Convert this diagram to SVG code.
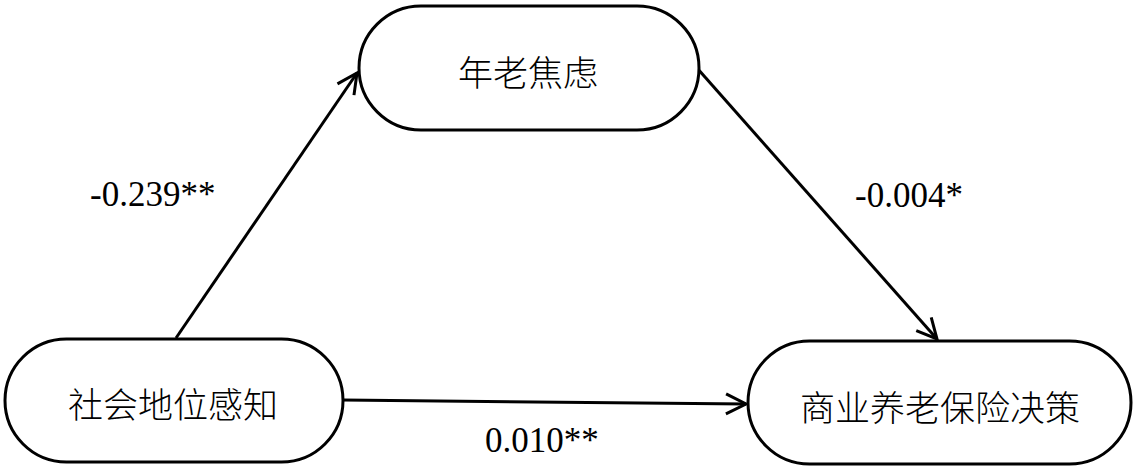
<svg xmlns="http://www.w3.org/2000/svg" width="1136" height="472" viewBox="0 0 1136 472">
<style>
.node rect{fill:#fff;stroke:#000;stroke-width:3}
.node text{font-family:"Noto Sans CJK SC",sans-serif;font-size:35px;font-weight:300;fill:#000;text-anchor:middle;dominant-baseline:central}
.edge{fill:none;stroke:#000;stroke-width:3}
.lbl{font-family:"Liberation Serif",serif;font-size:35px;fill:#000}
</style>
<defs>
<marker id="arr" markerUnits="userSpaceOnUse" markerWidth="30" markerHeight="30" refX="22" refY="12" orient="auto" overflow="visible">
<path d="M2,2 L22,12 L2,22" fill="none" stroke="#000" stroke-width="3"/>
</marker>
</defs>
<g id="connectors">
<line class="edge" x1="176" y1="338" x2="357" y2="73" marker-end="url(#arr)"/>
<line class="edge" x1="697" y1="68" x2="937" y2="339" marker-end="url(#arr)"/>
<line class="edge" x1="343" y1="400" x2="746" y2="404" marker-end="url(#arr)"/>
</g>
<g id="n_anxiety" class="node">
<rect x="359" y="6" width="340" height="124" rx="62"/>
<text x="528" y="70">年老焦虑</text>
</g>
<g id="n_status" class="node">
<rect x="5" y="339" width="338" height="123" rx="61.5"/>
<text x="173" y="402">社会地位感知</text>
</g>
<g id="n_decision" class="node">
<rect x="748" y="341" width="383" height="123" rx="61.5"/>
<text x="940" y="405">商业养老保险决策</text>
</g>
<text class="lbl" x="90" y="206">-0.239**</text>
<text class="lbl" x="855" y="207">-0.004*</text>
<text class="lbl" x="485" y="452">0.010**</text>
</svg>
